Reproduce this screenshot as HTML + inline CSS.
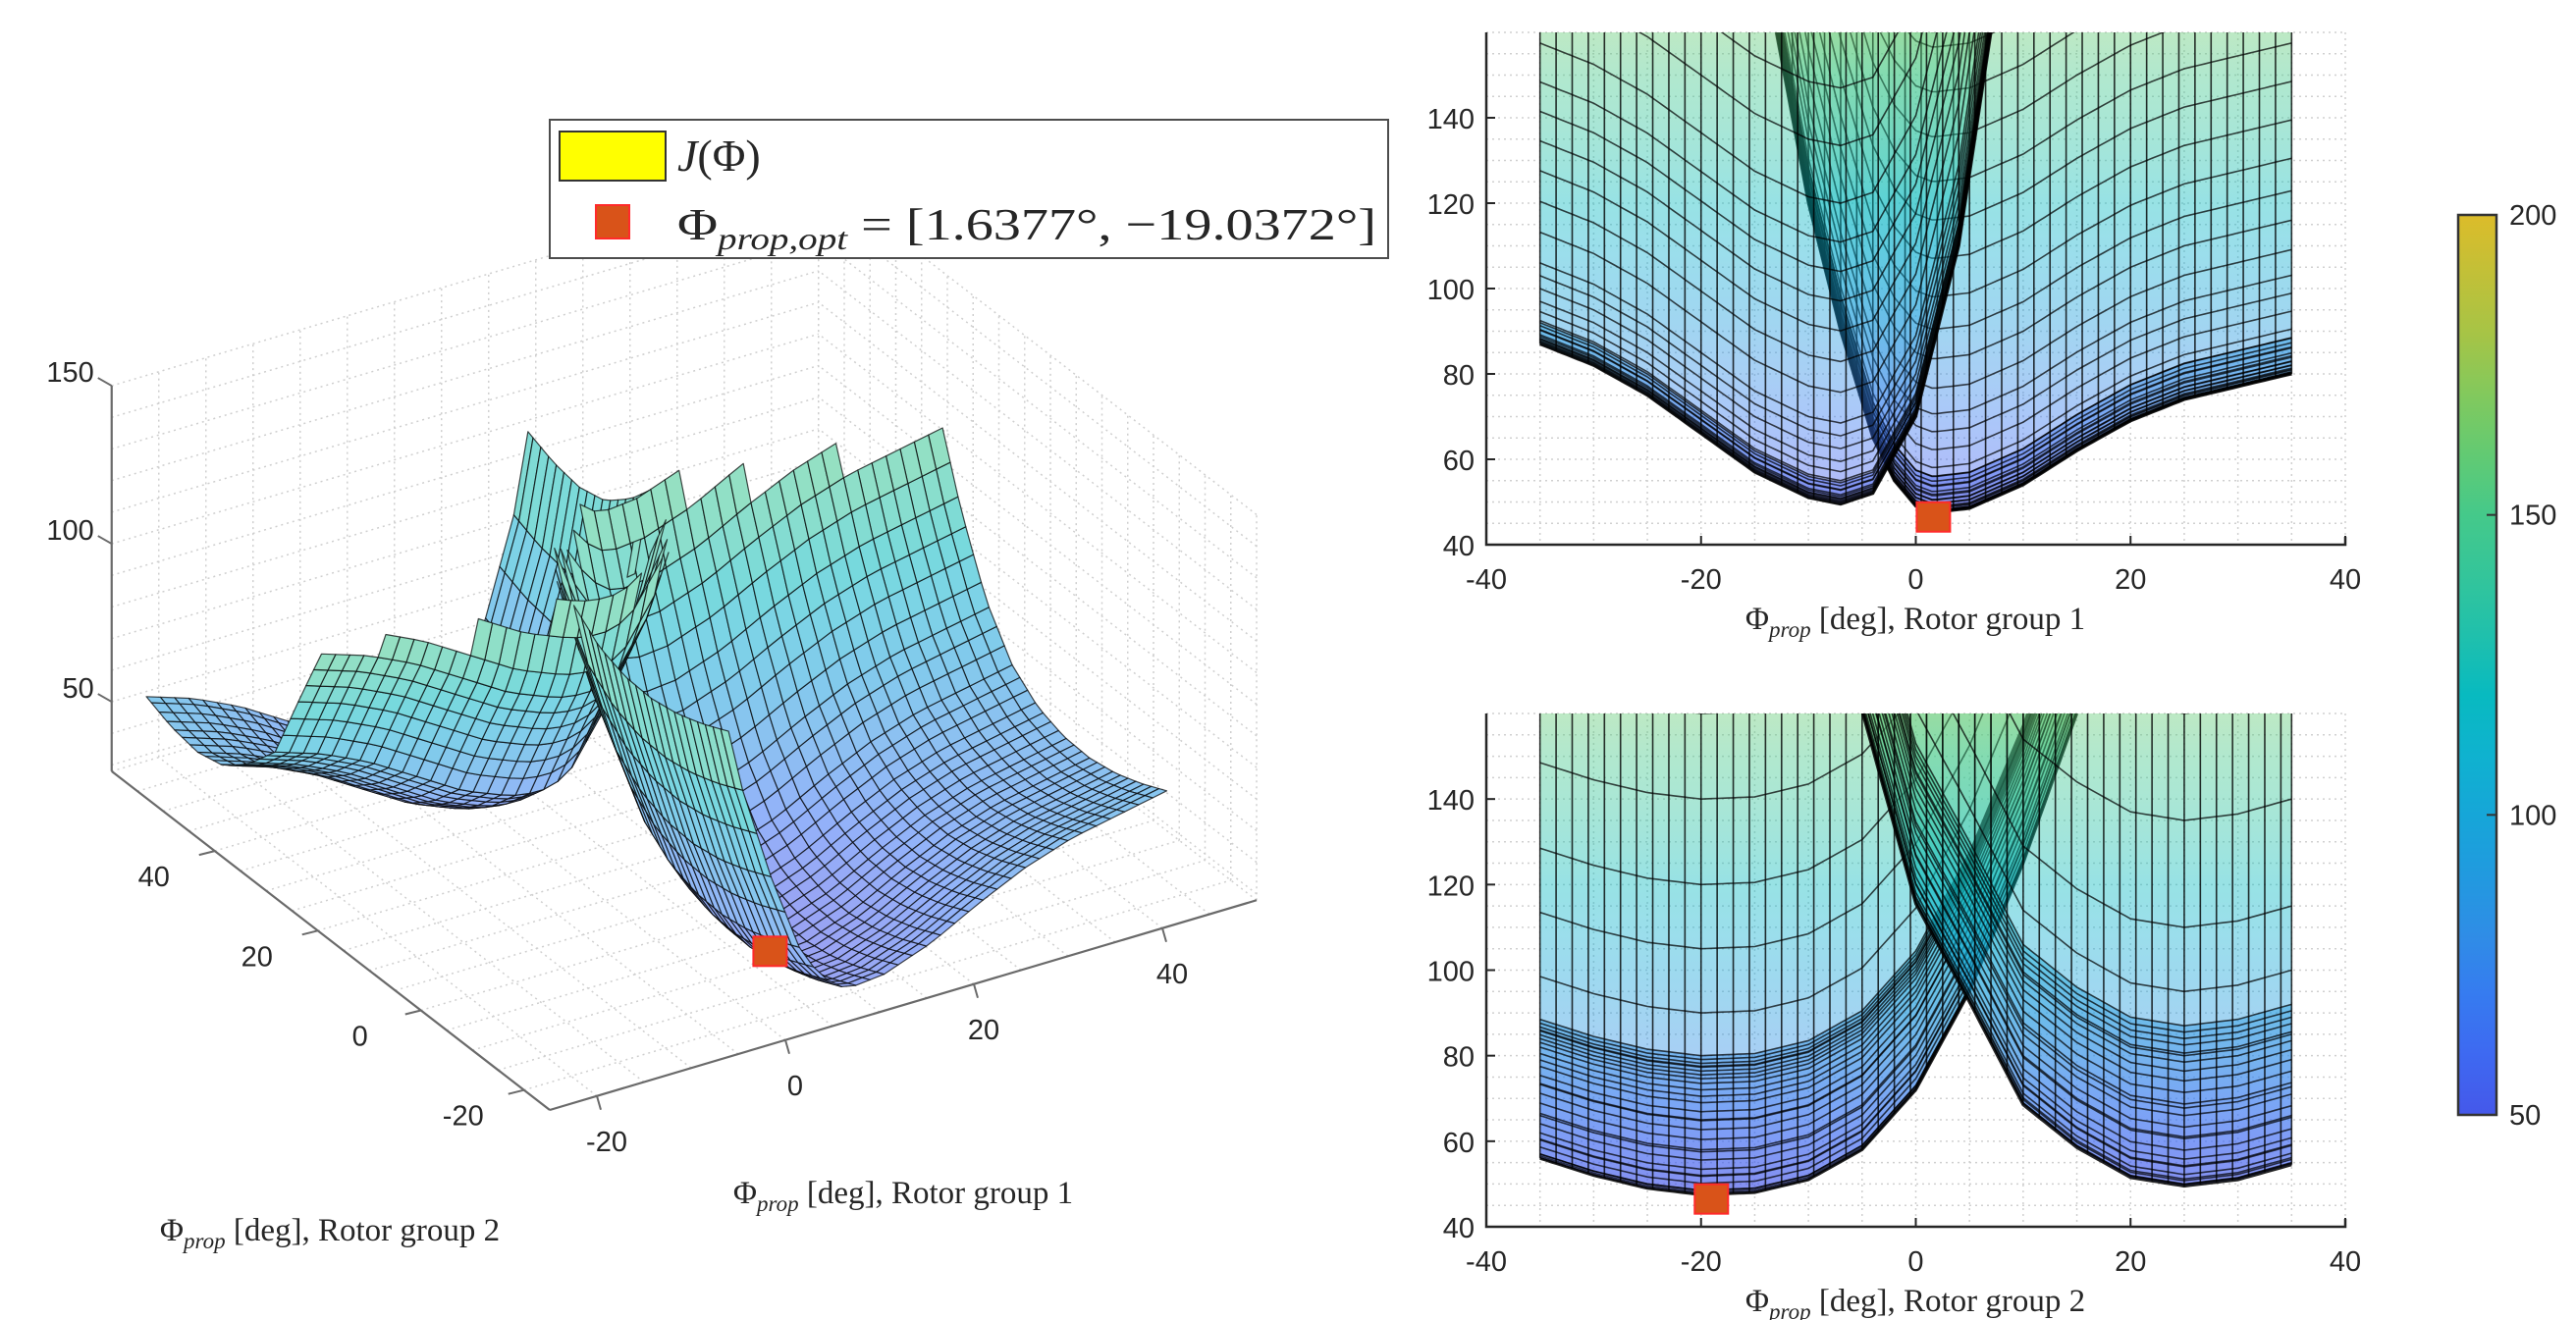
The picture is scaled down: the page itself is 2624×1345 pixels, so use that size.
<!DOCTYPE html>
<html><head><meta charset="utf-8">
<style>
html,body{margin:0;padding:0;background:#fff;}
svg{display:block;}
text{font-family:"Liberation Sans",sans-serif;fill:#262626;}
.ser{font-family:"Liberation Serif",serif;}
</style></head>
<body>
<svg id="fig" width="2624" height="1345" viewBox="0 0 2624 1345" xmlns="http://www.w3.org/2000/svg">
<defs id="defs"></defs>
<g id="g3d"></g>
<g id="gtop"></g>
<g id="gbot"></g>
<g id="gcb"></g>
<g id="legend">
  <rect x="560" y="122" width="854" height="141" fill="#fff" stroke="#4d4d4d" stroke-width="2"/>
  <rect x="570" y="134" width="108" height="50" fill="#ffff00" stroke="#333" stroke-width="2"/>
  <text class="ser" x="690" y="174" font-size="46" font-style="italic">J<tspan font-style="normal">(Φ)</tspan></text>
  <rect x="607" y="209" width="34" height="34" fill="#d95319" stroke="#ff2a2a" stroke-width="2"/>
  <text class="ser" x="690" y="244" font-size="46" textLength="712" lengthAdjust="spacingAndGlyphs">Φ<tspan font-size="32" font-style="italic" dy="10">prop,opt</tspan><tspan dy="-10"> = [1.6377°, −19.0372°]</tspan></text>
</g>
</svg>
<script>
// ---------- data (profiles read from the projections) ----------
const phi1A = [-13,-10,-7,-4,-2,0,1.6,5,10,15,20,25,30,35];
const jA1   = [160,120,90,65,55,49,47.5,48.5,54,62,69,74,77,80];
const phi2A = [-35,-30,-25,-20,-15,-10,-5,0,5,10,15];
const jA2   = [56,52,49,47.5,48,51,58,72,95,125,160];
const phi1B = [-35,-30,-25,-20,-15,-10,-7,-4,0,4,7];
const jB1   = [87,82,75,66,57,51,49.5,52,70,110,160];
const phi2B = [-5,0,5,10,15,20,25,30,35];
const jB2   = [160,115,92,68,58,51,49,50.5,54];
const optimumPhi = [1.6377,-19.0372];
const optimumJ = [46.5];
const xTicks2d = [-40,-20,0,20,40];
const yTicks2d = [40,60,80,100,120,140];
const zTicks3d = [50,100,150];
const floorTicks = [-20,0,20,40];
const cbTicks = [50,100,150,200];

const NS="http://www.w3.org/2000/svg";
function mk(tag,attrs,parent){const e=document.createElementNS(NS,tag);for(const k in attrs)e.setAttribute(k,attrs[k]);if(parent)parent.appendChild(e);return e;}
const sheets=[{x1:phi1A,j1:jA1,x2:phi2A,j2:jA2,name:'a'},{x1:phi1B,j1:jB1,x2:phi2B,j2:jB2,name:'b'}];
function interp(xs,js,x){if(x<=xs[0])return js[0];for(let i=1;i<xs.length;i++){if(x<=xs[i]){const t=(x-xs[i-1])/(xs[i]-xs[i-1]);return js[i-1]+t*(js[i]-js[i-1]);}}return js[js.length-1];}
function fine(xs,step){const out=[];for(let x=xs[0];x<xs[xs.length-1]-1e-6;x+=step)out.push(x);out.push(xs[xs.length-1]);return out;}
const stops=[[50,[69,88,234]],[65,[58,114,245]],[80,[47,141,230]],[95,[26,160,220]],[110,[15,178,207]],[120,[8,186,192]],[135,[44,195,162]],[150,[69,201,138]],[165,[112,203,104]],[180,[166,196,70]],[200,[220,188,42]]];
function cmap(v){if(v<=stops[0][0])return stops[0][1];for(let i=1;i<stops.length;i++){if(v<=stops[i][0]){const t=(v-stops[i-1][0])/(stops[i][0]-stops[i-1][0]);return stops[i-1][1].map((c,k)=>c+t*(stops[i][1][k]-c));}}return stops[stops.length-1][1];}
function rgb(c,w){w=w||0;return 'rgb('+c.map(x=>Math.round(x+(255-x)*w)).join(',')+')';}
const defs=document.getElementById('defs');

// ---------- 3D ----------
const g3=document.getElementById('g3d');
const P1MIN=-25,P1MAX=50,P2MIN=-25,P2MAX=60,ZMIN=28,ZMAX=150;
function P(p1,p2,z){return [560+(p1-P1MIN)*9.6-(p2-P2MIN)*5.25, 1131-(p1-P1MIN)*2.85-(p2-P2MIN)*4.06-(z-ZMIN)*3.22];}
function line3(a,b,attrs,name){const A=P(...a),B=P(...b);const l=mk('line',Object.assign({x1:A[0],y1:A[1],x2:B[0],y2:B[1]},attrs),g3);return l;}
const gridA={stroke:'#cfcfcf','stroke-width':1.5,'stroke-dasharray':'2 4'};
for(let p=-25;p<=50;p+=5){line3([p,P2MIN,ZMIN],[p,P2MAX,ZMIN],gridA,'floor-grid-line');line3([p,P2MAX,ZMIN],[p,P2MAX,ZMAX],gridA,'wall-grid-line');}
for(let p=-25;p<=60;p+=5){line3([P1MIN,p,ZMIN],[P1MAX,p,ZMIN],gridA,'floor-grid-line');line3([P1MAX,p,ZMIN],[P1MAX,p,ZMAX],gridA,'wall-grid-line');}
for(let z=30;z<=150;z+=10){line3([P1MIN,P2MAX,z],[P1MAX,P2MAX,z],gridA,'wall-grid-line');line3([P1MAX,P2MIN,z],[P1MAX,P2MAX,z],gridA,'wall-grid-line');}
const axA={stroke:'#6a6a6a','stroke-width':2.2};
line3([P1MIN,P2MIN,ZMIN],[P1MAX,P2MIN,ZMIN],axA,'x-axis-rotor1');
line3([P1MIN,P2MIN,ZMIN],[P1MIN,P2MAX,ZMIN],axA,'y-axis-rotor2');
line3([P1MIN,P2MAX,ZMIN],[P1MIN,P2MAX,ZMAX],axA,'z-axis');
zTicks3d.forEach(z=>{const a=P(P1MIN,P2MAX,z);const t=mk('line',{x1:a[0]-14,y1:a[1]-8,x2:a[0],y2:a[1],stroke:'#6a6a6a','stroke-width':2},g3);

const tx=mk('text',{x:a[0]-18,y:a[1]-4,'font-size':29,'text-anchor':'end'},g3);tx.textContent=z;
});
floorTicks.forEach(v=>{const a=P(v,P2MIN,ZMIN);mk('line',{x1:a[0],y1:a[1],x2:a[0]+4,y2:a[1]+14,stroke:'#6a6a6a','stroke-width':2},g3);
const tx=mk('text',{x:a[0]+10,y:a[1]+56,'font-size':29,'text-anchor':'middle'},g3);tx.textContent=v;

const b=P(P1MIN,v,ZMIN);mk('line',{x1:b[0],y1:b[1],x2:b[0]-16,y2:b[1]+4,stroke:'#6a6a6a','stroke-width':2},g3);
const ty=mk('text',{x:b[0]-62,y:b[1]+36,'font-size':29,'text-anchor':'middle'},g3);ty.textContent=v;
});
// surface quads
const quads=[];
sheets.forEach(s=>{const m=Math.min(...s.j2);const a=fine(s.x1,1.5),b=fine(s.x2,1.5);
for(let i=0;i<a.length-1;i++)for(let j=0;j<b.length-1;j++){
 const pts=[[a[i],b[j]],[a[i+1],b[j]],[a[i+1],b[j+1]],[a[i],b[j+1]]].map(([p,q])=>[p,q,interp(s.x1,s.j1,p)+interp(s.x2,s.j2,q)-m]);
 const zmax=Math.max(...pts.map(p=>p[2]));if(zmax>ZMAX+2)continue;
 const c=pts.reduce((acc,p)=>[acc[0]+p[0]/4,acc[1]+p[1]/4,acc[2]+p[2]/4],[0,0,0]);
 quads.push({pts,d:16.9*c[0]+30.9*c[1]-53.9*c[2]*0.35,z:c[2]});}});
quads.sort((u,v)=>v.d-u.d);
const gs=mk('g',{},g3);
quads.forEach(q=>{const pp=q.pts.map(p=>P(...p).map(v=>v.toFixed(1)).join(',')).join(' ');
 const pg=mk('polygon',{points:pp,fill:rgb(cmap(q.z),0.45),stroke:'rgba(0,0,0,0.72)','stroke-width':1.2,'stroke-linejoin':'round'},gs);
 });
{const o=P(optimumPhi[0],optimumPhi[1],optimumJ[0]);const r=mk('rect',{x:o[0]-17,y:o[1]-17,width:34,height:30,fill:'#d95319',stroke:'#ff2a2a','stroke-width':2},g3);
}
function axTitle(parent,x,y,label,name){const t=mk('text',{class:'ser',x:x,y:y,'font-size':33,'text-anchor':'middle'},parent);
 t.innerHTML='Φ<tspan font-size="23" font-style="italic" dy="8">prop</tspan><tspan dy="-8"> [deg], '+label+'</tspan>';
 }
axTitle(g3,920,1226,'Rotor group 1','rotor1-axis-title');
axTitle(g3,336,1264,'Rotor group 2','rotor2-axis-title');

// ---------- 2D projections ----------
function panel(g,top,bottom,view,titleLabel,pre){
 const L=1514,R=2389;const X=v=>L+(v+40)*(R-L)/80;const Y=v=>bottom-(v-40)*(bottom-top)/120;
 const cid='clip'+pre;const cp=mk('clipPath',{id:cid},defs);mk('rect',{x:X(-40),y:top,width:R-L,height:bottom-top},cp);
 const gid='grad'+pre;const lg=mk('linearGradient',{id:gid,gradientUnits:'userSpaceOnUse',x1:0,x2:0,y1:Y(40),y2:Y(160)},defs);
 for(let v=40;v<=160;v+=10)mk('stop',{offset:((v-40)/120).toFixed(3),'stop-color':rgb(cmap(v))},lg);
 for(let v=-40;v<=40;v+=5){const l=mk('line',{x1:X(v),x2:X(v),y1:top,y2:bottom,stroke:'#d0d0d0','stroke-width':1.5,'stroke-dasharray':'2 4'},g);}
 for(let v=45;v<=160;v+=5){const l=mk('line',{x1:L,x2:R,y1:Y(v),y2:Y(v),stroke:'#d0d0d0','stroke-width':1.5,'stroke-dasharray':'2 4'},g);}
 const gc=mk('g',{'clip-path':'url(#'+cid+')'},g);
 sheets.forEach(s=>{const xa=view===1?s.x1:s.x2,ja=view===1?s.j1:s.j2,xb=view===1?s.x2:s.x1,jb=view===1?s.j2:s.j1;
  const m=Math.min(...s.j2);const mb=Math.min(...jb);const xs=fine(xa,0.5);
  [jb[0],jb[jb.length-1]].forEach(e=>{const lo=xs.map(x=>[X(x),Y(interp(xa,ja,x)+mb-m)]);const hi=xs.map(x=>[X(x),Y(Math.min(170,interp(xa,ja,x)+e-m))]).reverse();
   const pg=mk('polygon',{points:lo.concat(hi).map(p=>p.map(v=>v.toFixed(1)).join(',')).join(' '),fill:'url(#'+gid+')','fill-opacity':0.42},gc);
   });
  const fa=fine(xa,1.5),fb=fine(xb,1.5);const mxb=Math.max(...jb);
  fa.forEach(x=>{const f=interp(xa,ja,x);const l=mk('line',{x1:X(x),x2:X(x),y1:Y(f+mb-m),y2:Y(Math.min(170,f+mxb-m)),stroke:'rgba(0,0,0,0.8)','stroke-width':1.6},gc);
   });
  fb.forEach(yv=>{const off=interp(xb,jb,yv)-m;const xs2=fine(xa,0.5);const pts=xs2.map(x=>X(x).toFixed(1)+','+Y(Math.min(175,interp(xa,ja,x)+off)).toFixed(1)).join(' ');
   const pl=mk('polyline',{points:pts,fill:'none',stroke:'rgba(0,0,0,0.72)','stroke-width':1.6},gc);
   });
  const le=mk('polyline',{points:xs.map(x=>X(x).toFixed(1)+','+Y(interp(xa,ja,x)+mb-m).toFixed(1)).join(' '),fill:'none',stroke:'rgba(0,0,0,0.85)','stroke-width':3},gc);
  });
 const ox=view===1?optimumPhi[0]:optimumPhi[1];
 const mr=mk('rect',{x:X(ox)-17,y:Y(optimumJ[0])-15,width:34,height:30,fill:'#d95319',stroke:'#ff2a2a','stroke-width':2},g);
 
 const ax=mk('path',{d:`M${L},${top} L${L},${bottom} L${R},${bottom} L${R},${bottom-8}`,fill:'none',stroke:'#262626','stroke-width':2.5},g);
 
 xTicks2d.forEach(v=>{mk('line',{x1:X(v),x2:X(v),y1:bottom,y2:bottom-9,stroke:'#262626','stroke-width':2},g);
  const t=mk('text',{x:X(v),y:bottom+45,'font-size':29,'text-anchor':'middle'},g);t.textContent=v;});
 yTicks2d.forEach(v=>{mk('line',{x1:L,x2:L+9,y1:Y(v),y2:Y(v),stroke:'#262626','stroke-width':2},g);
  const t=mk('text',{x:L-12,y:Y(v)+11,'font-size':29,'text-anchor':'end'},g);t.textContent=v;});
 axTitle(g,1951,bottom+86,titleLabel,'x-axis-title');
}
panel(document.getElementById('gtop'),33,555,1,'Rotor group 1','t');
panel(document.getElementById('gbot'),727,1250,2,'Rotor group 2','b');

// ---------- colorbar ----------
const gcb=document.getElementById('gcb');
const cg=mk('linearGradient',{id:'cbg',x1:0,x2:0,y1:1,y2:0},defs);
for(let v=50;v<=200;v+=10)mk('stop',{offset:((v-50)/150).toFixed(3),'stop-color':rgb(cmap(v))},cg);
const CT=219,CB=1136;
const cr=mk('rect',{x:2504,y:CT,width:39,height:CB-CT,fill:'url(#cbg)',stroke:'#333','stroke-width':2.5},gcb);

cbTicks.forEach(v=>{const y=CB-(v-50)*(CB-CT)/150;mk('line',{x1:2533,x2:2543,y1:y,y2:y,stroke:'#333','stroke-width':2},gcb);
 const t=mk('text',{x:2556,y:y+10,'font-size':29},gcb);t.textContent=v;});
</script>
</body></html>
